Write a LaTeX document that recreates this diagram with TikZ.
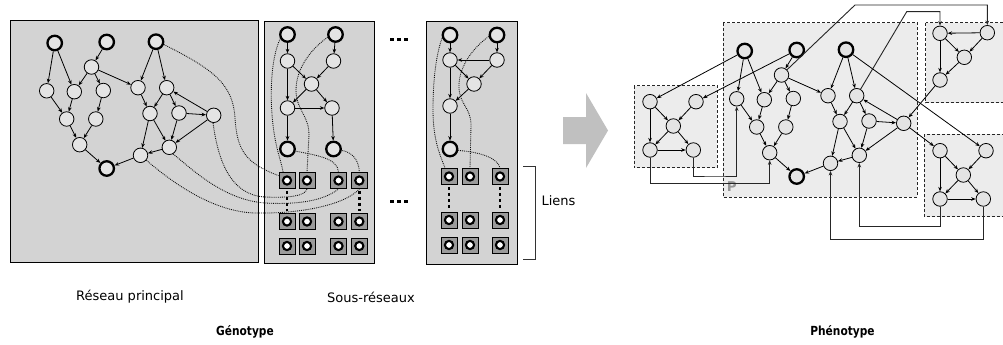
\documentclass[tikz,border=0pt]{standalone}
\usepackage{fontspec}
\setmainfont{DejaVu Sans}
\newfontfamily\narrowfont{DejaVu Sans}[FakeStretch=0.85]
\usetikzlibrary{arrows.meta,calc}

\definecolor{boxgray}{RGB}{211,211,211}
\definecolor{nodefill}{RGB}{228,228,228}
\definecolor{pboxfill}{RGB}{236,236,236}
\definecolor{linkfill}{RGB}{155,155,155}
\definecolor{arrowgray}{RGB}{192,192,192}
\definecolor{plabel}{RGB}{150,150,150}

\tikzset{
  nd/.style={circle,draw,fill=nodefill,line width=0.8pt,minimum size=14.5pt,inner sep=0pt},
  io/.style={nd,line width=2.3pt},
  ed/.style={-{Stealth[length=4.5pt,width=3.6pt]},line width=0.8pt},
  orth/.style={ed,line width=0.9pt,draw=black!85},
  dl/.style={line width=0.85pt,draw=black!95,dash pattern=on 0.9pt off 1pt},
  lk/.style={rectangle,draw,fill=linkfill,line width=0.9pt,minimum size=16pt,inner sep=0pt,
    path picture={\draw[line width=2.1pt,fill=white] (path picture bounding box.center) circle (4.1pt);}},
  vd/.style={line width=2.4pt,dash pattern=on 3pt off 3pt,shorten <=2pt,shorten >=2pt},
  genbox/.style={draw,fill=boxgray,line width=1pt},
  phbox/.style={draw=black!85,fill=pboxfill,line width=0.9pt,dash pattern=on 3pt off 2pt},
  lbl/.style={font=\fontsize{13}{15}\selectfont},
  ttl/.style={font=\narrowfont\fontsize{12.5}{14}\selectfont\bfseries},
}

% the main regulatory network, #1 = prefix of the node names
\newcommand\mainnet[1]{%
  \node[io] (#1A1) at (54.7,43) {};
  \node[io] (#1A2) at (106.7,42) {};
  \node[io] (#1A3) at (156,41.7) {};
  \node[nd] (#1B1) at (91.5,67) {};
  \node[nd] (#1C1) at (46.7,90.8) {};
  \node[nd] (#1C2) at (74.3,91.7) {};
  \node[nd] (#1C3) at (103.3,90.5) {};
  \node[nd] (#1D1) at (66.7,119) {};
  \node[nd] (#1D2) at (95.8,119) {};
  \node[nd] (#1E1) at (79.7,144.7) {};
  \node[io] (#1F) at (106.7,168.5) {};
  \node[nd] (#1G1) at (138,87.7) {};
  \node[nd] (#1G2) at (166.7,87.7) {};
  \node[nd] (#1H1) at (150,113.5) {};
  \node[nd] (#1H2) at (179,113) {};
  \node[nd] (#1H3) at (213.7,115.3) {};
  \node[nd] (#1I1) at (169.3,147.3) {};
  \node[nd] (#1I2) at (140.5,155.3) {};
  \foreach \a/\b in {A1/C1,A1/C2,A2/B1,B1/C2,B1/C3,B1/G1,C1/D1,C2/D1,C3/D2,D1/E1,D2/E1,E1/F,
                     A3/G1,A3/G2,G1/H1,G2/H1,G2/H2,H2/H3,H3/G2,H3/I1,H1/I2,H1/I1,H2/I1,I1/I2,I2/F}
    \draw[ed] (#1\a) -- (#1\b);
}

\begin{document}
\begin{tikzpicture}[x=1pt,y=-1pt]
\useasboundingbox (0,0) rectangle (1003,345);
\clip (0,0) rectangle (1003,345);

% ---------------- genotype ----------------
\draw[genbox] (10.7,21) rectangle (258.3,262);
\draw[genbox] (264,22) rectangle (374,263);
\draw[genbox] (426,22) rectangle (517,264);

\mainnet{g}

% first sub-network
\node[io] (s1a) at (287.5,34.5) {};
\node[io] (s1b) at (335.5,34.5) {};
\node[nd] (s1c) at (287.5,61) {};
\node[nd] (s1d) at (333.5,61) {};
\node[nd] (s1e) at (311.5,84) {};
\node[nd] (s1f) at (287.5,108) {};
\node[nd] (s1g) at (332,108) {};
\node[io] (s1h) at (287.5,149) {};
\node[io] (s1i) at (333.5,149) {};
\foreach \a/\b in {s1a/s1c,s1b/s1d,s1c/s1f,s1c/s1e,s1d/s1e,s1e/s1f,s1e/s1g,s1f/s1g,s1f/s1h,s1g/s1i}
  \draw[ed] (\a) -- (\b);

% second sub-network
\node[io] (s2a) at (450,35) {};
\node[io] (s2b) at (497,35) {};
\node[nd] (s2c) at (450,60) {};
\node[nd] (s2d) at (497,60) {};
\node[nd] (s2e) at (474,84) {};
\node[nd] (s2f) at (450,106) {};
\node[io] (s2g) at (450,149) {};
\foreach \a/\b in {s2a/s2c,s2b/s2d,s2d/s2c,s2c/s2e,s2d/s2e,s2e/s2f,s2c/s2f,s2f/s2g}
  \draw[ed] (\a) -- (\b);

% link slots
\foreach \c/\x in {1/287,2/307,3/338.5,4/359.3}
  \foreach \r/\y in {1/180.5,2/221.5,3/246}
    \node[lk] (q\r\c) at (\x,\y) {};
\foreach \c/\x in {1/449,2/470,3/500}
  \foreach \r/\y in {1/176.5,2/220,3/245}
    \node[lk] (r\r\c) at (\x,\y) {};
\draw[vd] (q11) -- (q21);
\draw[vd] (q14) -- (q24);
\draw[vd] (r11) -- (r21);
\draw[vd] (r13) -- (r23);

% links of the main network
\draw[dl] (gA3.-20) .. controls (215,70) and (233,85) .. (235,118)
          .. controls (237,150) and (245,163) .. (q11.150);
\draw[dl] (gH3.-95) .. controls (218,160) and (230,195) .. (265,197)
          .. controls (290,198) and (305,196) .. (q12.south);
\draw[dl] (gI1.-60) .. controls (195,172) and (225,200) .. (265,203)
          .. controls (300,205) and (325,200) .. (q13.south);
\draw[dl] (gI2.-40) .. controls (175,185) and (215,212) .. (255,213)
          .. controls (300,214) and (345,205) .. (q14.south);
% links of the first sub-network
\draw[dl] (s1a.-150) .. controls (270,60) and (270,100) .. (273,125)
          .. controls (276,150) and (281,160) .. (q11.115);
\draw[dl] (s1b.-160) .. controls (312,48) and (296,68) .. (296,90)
          .. controls (296,110) and (309,115) .. (309,135) -- (q12.north);
\draw[dl] (s1h.-15) .. controls (315,155) and (338,158) .. (q13.north);
\draw[dl] (s1i.-10) .. controls (352,152) and (359,160) .. (q14.north);
% links of the second sub-network
\draw[dl] (s2a.-160) .. controls (436,55) and (433,80) .. (433,110)
          .. controls (433,140) and (440,155) .. (r11.115);
\draw[dl] (s2b.-170) .. controls (470,50) and (458,70) .. (459,88)
          .. controls (460,105) and (471,108) .. (471,125) -- (r12.north);
\draw[dl] (s2g.-10) .. controls (480,152) and (498,158) .. (r13.north);

% ellipses between the sub-networks
\foreach \y in {39.3,201.7}
  \foreach \x in {392,398.7,406}
    \fill (\x-2,\y-1.5) rectangle (\x+2,\y+1.5);

% bracket of the link slots
\draw[line width=0.9pt,draw=black!80] (523,166.5) -- (535,166.5) -- (535,259.5) -- (523,259.5);
\node[lbl,anchor=west] (tLiens) at (538,201) {Liens};

\node[lbl] (tRes) at (130,297) {Réseau principal};
\node[lbl] (tSous) at (371,297) {Sous-réseaux};
\node[ttl] (tGen) at (245,332) {Génotype};

% ---------------- development arrow ----------------
\fill[arrowgray] (563,117) -- (586,117) -- (586,93) -- (608,130.5) -- (586,168) -- (586,144) -- (563,144) -- cycle;

% ---------------- phenotype ----------------
\draw[phbox] (723.3,22.7) rectangle (917.3,197);
\draw[phbox] (634,85.7) rectangle (717.3,167.7);
\draw[phbox] (925.7,22.7) rectangle (1012,102.7);
\draw[phbox] (924.3,134.3) rectangle (1012,216.7);
\node[font=\fontsize{13.5}{15}\selectfont\bfseries,text=plabel] (tP) at (731.7,186.7) {P};

\begin{scope}[shift={(690,8)}]
  \mainnet{p}
\end{scope}

% copy of the first sub-network, left
\node[nd] (L1) at (650,101.7) {};
\node[nd] (L2) at (696,101.7) {};
\node[nd] (L3) at (673.3,126) {};
\node[nd] (L4) at (650,150) {};
\node[nd] (L5) at (693.3,150) {};
% copy of the first sub-network, lower right
\node[nd] (R1) at (940,150.7) {};
\node[nd] (R2) at (986,150.7) {};
\node[nd] (R3) at (963.3,175) {};
\node[nd] (R4) at (940,199) {};
\node[nd] (R5) at (983.3,199) {};
\foreach \s in {L,R}
  \foreach \a/\b in {1/3,2/3,3/4,3/5,1/4,4/5}
    \draw[ed] (\s\a) -- (\s\b);
% copy of the second sub-network, upper right
\node[nd] (T1) at (940,33.3) {};
\node[nd] (T2) at (987.3,32.7) {};
\node[nd] (T3) at (964.3,57.3) {};
\node[nd] (T4) at (940,80) {};
\foreach \a/\b in {T2/T1,T1/T3,T2/T3,T3/T4,T1/T4}
  \draw[ed] (\a) -- (\b);

% connections between the copies
\draw[ed] (pA1) -- (L1);
\draw[ed] (pA2) -- (L2);
\draw[ed] (pA3) -- (R2);
\draw[ed] (pH3) -- (R1);
\draw[ed] (T4) -- (pH3);
\coordinate (k1) at (715,176);
\coordinate (k2) at (715,183.3);
\coordinate (k3) at (900,226.7);
\coordinate (k4) at (900,239.3);
\coordinate (k5) at (855,5);
\coordinate (k6) at (906.7,11.7);
\draw[orth] (L5) |- (k1) -| (pC1);
\draw[orth] (L4) |- (k2) -| (pE1);
\draw[orth] (R4) |- (k3) -| (pI1);
\draw[orth] (R5) |- (k4) -| (pI2);
\draw[orth] (pB1) -- (k5) -| (T2);
\draw[orth] (pG2) -- (k6) -| (T1);

\node[ttl] (tPhen) at (842.5,332) {Phénotype};
\end{tikzpicture}
\end{document}
